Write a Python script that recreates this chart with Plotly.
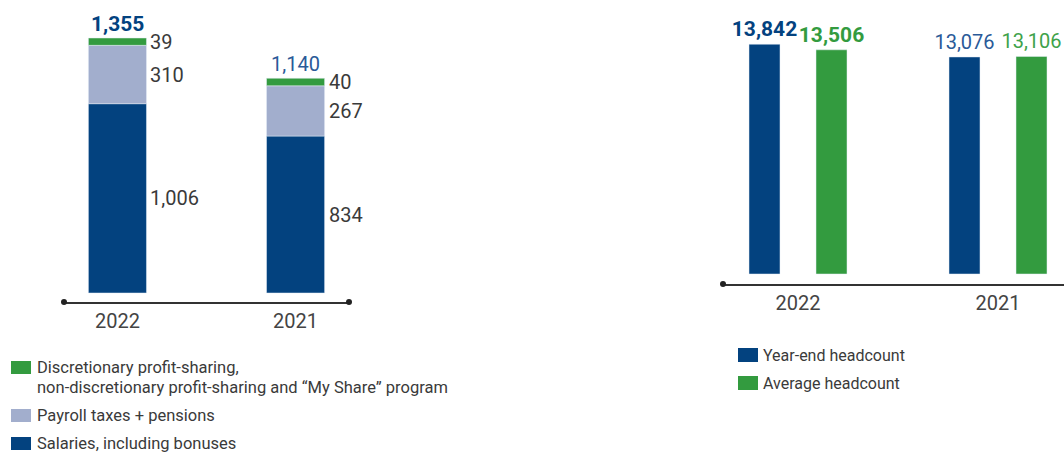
import plotly.graph_objects as go

# ---------------- data ----------------
years = ["2022", "2021"]
salaries = [1006, 834]
payroll_taxes = [310, 267]
profit_sharing = [39, 40]
cost_totals = [1355, 1140]
cost_names = [
    "Salaries, including bonuses",
    "Payroll taxes + pensions",
    ["Discretionary profit-sharing,",
     "non-discretionary profit-sharing and \u201cMy Share\u201d program"],
]
year_end_headcount = [13842, 13076]
average_headcount = [13506, 13106]
headcount_names = ["Year-end headcount", "Average headcount"]

# ---------------- style ----------------
W, H = 1064, 453
NAVY = "#03427f"
NAVY_LIGHT = "#2a5a98"
LIGHT = "#a2aecd"
GREEN = "#339b3f"
GREEN_LIGHT = "#3ea24a"
TEXT = "#3a3a3a"
FONT = "Roboto, Liberation Sans, sans-serif"


def px(x):
    return x / W


def py(y):
    return 1 - y / H


fig = go.Figure()

# stacked cost bars (bases computed from the series)
base_pay = salaries
base_profit = [a + b for a, b in zip(salaries, payroll_taxes)]
fig.add_trace(go.Bar(x=years, y=salaries, base=[0, 0], marker_color=NAVY,
                     width=0.326, xaxis="x", yaxis="y", showlegend=False))
fig.add_trace(go.Bar(x=years, y=payroll_taxes, base=base_pay, marker_color=LIGHT,
                     width=0.326, xaxis="x", yaxis="y", showlegend=False))
fig.add_trace(go.Bar(x=years, y=profit_sharing, base=base_profit, marker_color=GREEN,
                     width=0.326, xaxis="x", yaxis="y", showlegend=False))

annotations = []
# segment labels right of bars (x given as category index)
for series, bases in [(salaries, [0, 0]), (payroll_taxes, base_pay), (profit_sharing, base_profit)]:
    for i, (v, b) in enumerate(zip(series, bases)):
        annotations.append(dict(x=i, y=b + v / 2, xref="x", yref="y", text=f"{v:,}",
                                showarrow=False, xanchor="left", yanchor="middle",
                                xshift=31, font=dict(size=20, color=TEXT, family=FONT)))
# totals above bars
for i, t in enumerate(cost_totals):
    txt = f"<b>{t:,}</b>" if i == 0 else f"{t:,}"
    annotations.append(dict(x=i, y=t, xref="x", yref="y", text=txt, showarrow=False,
                            xanchor="center", yanchor="bottom", yshift=0,
                            font=dict(size=21 if i == 0 else 20,
                                      color=NAVY if i == 0 else NAVY_LIGHT, family=FONT)))

# headcount bars
fig.add_trace(go.Bar(x=years, y=year_end_headcount, marker_color=NAVY, width=0.155, offset=-0.245,
                     text=[f"<b>{year_end_headcount[0]:,}</b>", f"{year_end_headcount[1]:,}"],
                     textposition="outside", constraintext="none", cliponaxis=False,
                     textfont=dict(size=[21, 20], color=[NAVY, NAVY_LIGHT], family=FONT),
                     xaxis="x2", yaxis="y2", showlegend=False))
fig.add_trace(go.Bar(x=years, y=average_headcount, marker_color=GREEN, width=0.155, offset=0.09,
                     text=[f"<b>{average_headcount[0]:,}</b>", f"{average_headcount[1]:,}"],
                     textposition="outside", constraintext="none", cliponaxis=False,
                     textfont=dict(size=[21, 20], color=[GREEN, GREEN_LIGHT], family=FONT),
                     xaxis="x2", yaxis="y2", showlegend=False))

# custom legends
shapes = []
left_colors = [GREEN, LIGHT, NAVY]
left_labels = [cost_names[2], cost_names[1], cost_names[0]]
left_rows = [361, 409, 437]
for col, lab, top in zip(left_colors, left_labels, left_rows):
    shapes.append(dict(type="rect", xref="paper", yref="paper", x0=px(11), x1=px(31),
                       y0=py(top), y1=py(top + 13), fillcolor=col, line_width=0))
    lines = lab if isinstance(lab, list) else [lab]
    for k, ln in enumerate(lines):
        annotations.append(dict(x=px(35), y=py(top + 6.5 + 19.5 * k), xref="paper", yref="paper",
                                text=ln, showarrow=False, xanchor="left", yanchor="middle",
                                font=dict(size=16.5, color=TEXT, family=FONT)))

for col, lab, top in zip([NAVY, GREEN], headcount_names, [348, 376]):
    shapes.append(dict(type="rect", xref="paper", yref="paper", x0=px(738), x1=px(758),
                       y0=py(top), y1=py(top + 14), fillcolor=col, line_width=0))
    annotations.append(dict(x=px(761), y=py(top + 7), xref="paper", yref="paper",
                            text=lab, showarrow=False, xanchor="left", yanchor="middle",
                            font=dict(size=16, color=TEXT, family=FONT)))

# axis end dots
for xr, yr, xs in [("x domain", "y domain", 0), ("x domain", "y domain", 1), ("x2 domain", "y2 domain", 0)]:
    shapes.append(dict(type="circle", xref=xr, yref=yr, xsizemode="pixel", ysizemode="pixel",
                       xanchor=xs, yanchor=0, x0=-3, x1=3, y0=-3, y1=3,
                       fillcolor="#222", line_width=0))

s_left = 255 / 1355
s_right = 0.0166
axis_common = dict(type="category", showgrid=False, zeroline=False, showline=True,
                   linecolor="#333", linewidth=2, ticks="", fixedrange=True,
                   tickfont=dict(size=20, color="#444", family=FONT))
fig.update_layout(
    width=W, height=H, autosize=False,
    margin=dict(l=0, r=0, t=0, b=0),
    paper_bgcolor="white", plot_bgcolor="white",
    barmode="overlay",
    xaxis=dict(domain=[px(64), px(349)], range=[-0.3, 1.3], anchor="y", **axis_common),
    yaxis=dict(domain=[py(302), py(20)], range=[-9 / s_left, 1355 + 18 / s_left],
               visible=False, fixedrange=True),
    xaxis2=dict(domain=[px(723), 1.0], range=[-0.375, 1.33], anchor="y2", **axis_common),
    yaxis2=dict(domain=[py(284), py(20)], range=[-10 / s_right, 254 / s_right],
                visible=False, fixedrange=True),
    shapes=shapes,
    annotations=annotations,
    font=dict(family=FONT, color=TEXT),
    hovermode=False,
)

fig.write_html("out.html", config={"displayModeBar": False, "staticPlot": True},
               post_script="document.body.style.margin='0';")
